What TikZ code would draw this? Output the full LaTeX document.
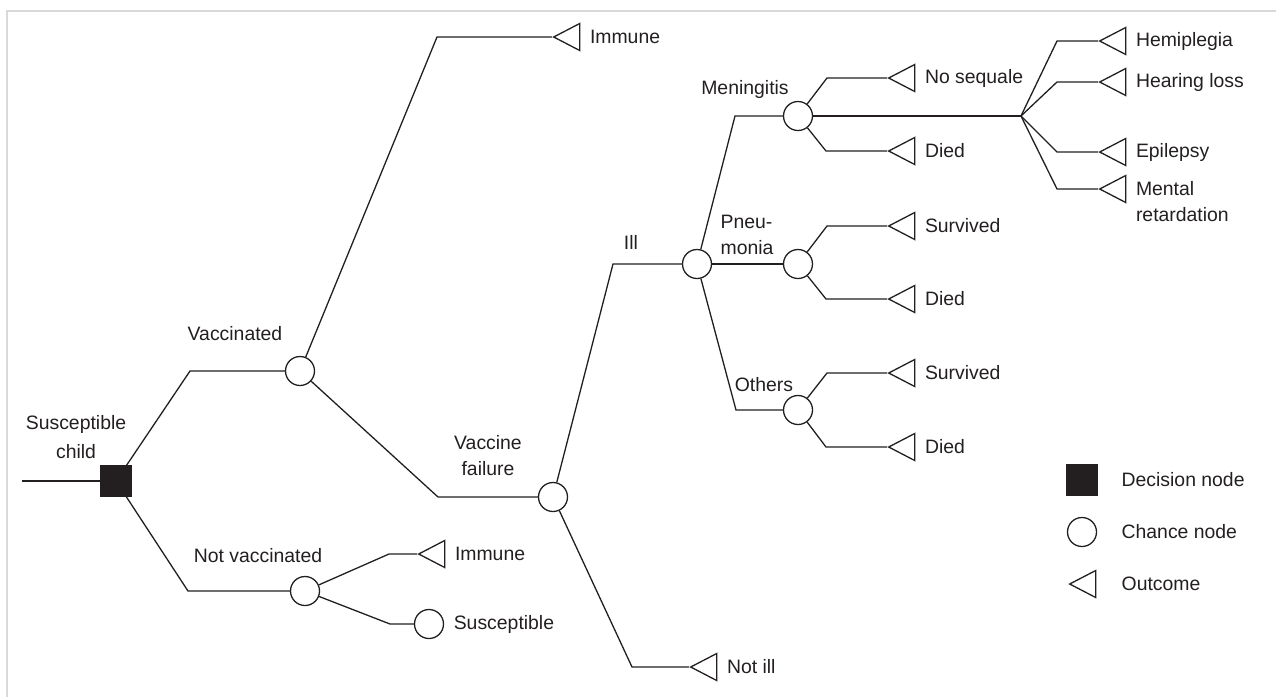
\documentclass[tikz,border=0pt]{standalone}
\usepackage{fontspec}
\setmainfont{Liberation Sans}
\usepackage{tikz}
\usetikzlibrary{shapes.geometric}
\definecolor{ink}{HTML}{231F20}
\definecolor{frame}{HTML}{D9D9D9}

\begin{document}
\begin{tikzpicture}[x=0.5pt, y=-0.5pt, line width=0.65pt, color=ink,
  font=\fontsize{9.7pt}{13pt}\selectfont,
  decision/.style={rectangle, draw, fill=ink, minimum size=15pt, inner sep=0pt},
  chance/.style={circle, draw, fill=white, minimum size=14.5pt, inner sep=0pt},
  outcome/.style={isosceles triangle, isosceles triangle stretches, shape border rotate=180,
    draw, fill=white, minimum width=13.5pt, minimum height=13pt, inner sep=0pt, anchor=apex},
  txt/.style={inner sep=0pt},
  endtext/.style={label={[txt, label distance=4.5pt]right:#1}}]
  \useasboundingbox (0,0) rectangle (1276,697);
  \draw[frame, line width=1pt] (7,697) -- (7,11) -- (1276,11);

  % decision and chance nodes
  \coordinate (start) at (22,481);
  \node[decision] (root) at (116,481) {};
  \node[chance] (vacc) at (300,371) {};
  \node[chance] (novacc) at (305,591) {};
  \node[chance, endtext=Susceptible] (susc) at (429,624) {};
  \node[chance] (fail) at (553,497) {};
  \node[chance] (ill) at (697,264) {};
  \node[chance] (men) at (798,116) {};
  \node[chance] (pneu) at (798,264) {};
  \node[chance] (oth) at (798,410) {};
  \coordinate (fan) at (1021,116);

  % outcomes
  \node[outcome, endtext=Immune] (immune1) at (552,37) {};
  \node[outcome, endtext=Immune] (immune2) at (417,554) {};
  \node[outcome, endtext=Not ill] (notill) at (689,667) {};
  \node[outcome, endtext=No sequale] (noseq) at (887,78) {};
  \node[outcome, endtext=Died] (mdied) at (887,151) {};
  \node[outcome, endtext=Survived] (psurv) at (887,226) {};
  \node[outcome, endtext=Died] (pdied) at (887,299) {};
  \node[outcome, endtext=Survived] (osurv) at (887,373) {};
  \node[outcome, endtext=Died] (odied) at (887,447) {};
  \node[outcome, endtext=Hemiplegia] (hemi) at (1098,41) {};
  \node[outcome, endtext=Hearing loss] (hear) at (1098,82) {};
  \node[outcome, endtext=Epilepsy] (epi) at (1098,152) {};
  \node[outcome, label={[txt, label distance=4.5pt, align=left, yshift=-6.5pt]right:Mental\\retardation}] (ment) at (1098,189) {};

  % branch labels
  \node[txt, align=center] (lchild) at (76,437) {Susceptible\\[1.5pt]child};
  \node[txt] (lvacc) at (235,334) {Vaccinated};
  \node[txt] (lnovacc) at (258,556) {Not vaccinated};
  \node[txt, align=center] (lfail) at (488,456) {Vaccine\\failure};
  \node[txt] (lill) at (631,242) {Ill};
  \node[txt] (lmen) at (745,89) {Meningitis};
  \node[txt, align=left, anchor=west] (lpneu) at (720,235) {Pneu-\\monia};
  \node[txt] (loth) at (764,385) {Others};

  % elbows
  \foreach \n/\x/\y in {vacc/190/371, novacc/188/591, immune1/437/37, fail/438/497,
      immune2/389/554, susc/390/624, ill/613/264, notill/632/667, men/735/116,
      oth/736/410, noseq/827/78, mdied/826/151, psurv/827/226, pdied/826/299,
      osurv/827/373, odied/826/447, hemi/1057/41, hear/1057/82, epi/1057/152,
      ment/1057/189}
    \coordinate (k-\n) at (\x,\y);

  \draw (start) -- (root);
  \foreach \a/\b in {root/vacc, root/novacc, vacc/immune1, vacc/fail, novacc/immune2,
      novacc/susc, fail/ill, fail/notill, ill/men, ill/oth, men/noseq, men/mdied,
      pneu/psurv, pneu/pdied, oth/osurv, oth/odied, fan/hemi, fan/hear, fan/epi, fan/ment}
    \draw (\a) -- (k-\b) -- (\b);
  \draw (ill) -- (pneu);
  \draw (men) -- (fan);

  % key
  \node[decision] (keyD) at (1082,480) {};
  \node[chance] (keyC) at (1082,532) {};
  \node[outcome] (keyO) at (1068,584) {};
  \node[txt, anchor=west] (keyDtext) at (1121,480) {Decision node};
  \node[txt, anchor=west] (keyCtext) at (1121,532) {Chance node};
  \node[txt, anchor=west] (keyOtext) at (1121,584) {Outcome};
\end{tikzpicture}
\end{document}
